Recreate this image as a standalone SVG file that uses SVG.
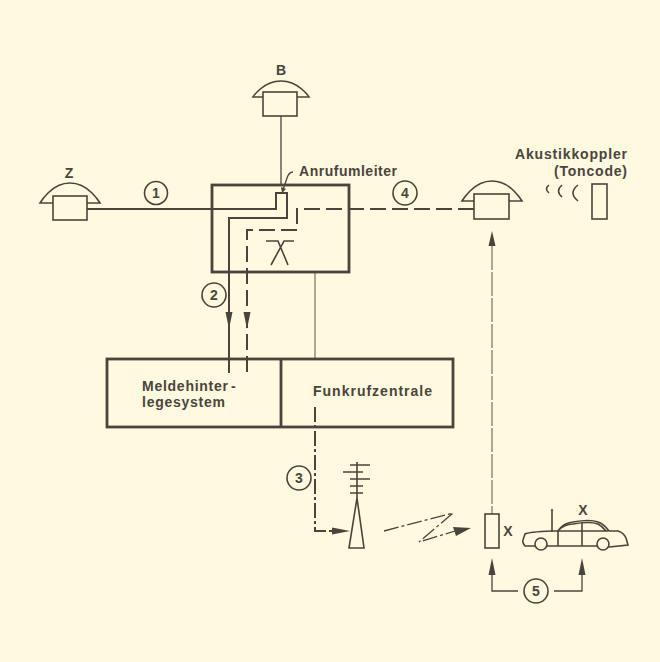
<svg xmlns="http://www.w3.org/2000/svg" width="660" height="662" viewBox="0 0 660 662">
<style>
.l{fill:none;stroke:#4a453c;stroke-linejoin:miter}
.b{fill:#fef9df;stroke:#4a453c;stroke-width:1.6}
.box{fill:none;stroke:#4a453c;stroke-width:2.8}
.c{fill:none;stroke:#4a453c;stroke-width:1.6}
.w{stroke-width:2}
.t{stroke-width:1.3}
.f{stroke-width:1;stroke:#5c574c}
.dash{stroke-dasharray:16 6}
.dd{stroke-dasharray:15 3 3 3}
text{font-family:"Liberation Sans",Arial,sans-serif;font-weight:bold;fill:#4a453c;font-size:14px}
.n{text-anchor:middle;font-size:14px}
.h{fill:#4a453c}
</style>
<defs>
<path id="ph" d="M-30 10Q-27 5 -22 0C-16 -6 -8 -10 0 -10C8 -10 16 -6 22 0Q27 5 30 10Z"/>
</defs>
<rect width="660" height="662" fill="#fef9df"/>
<g id="connectors">
<path class="l w" d="M87 209H276V193H287V218H229V373"/>
<path class="l w dash" d="M474 209H297V230H247V373"/>
<path class="l t" d="M281 116V185"/>
<path class="l f" d="M315 272V359"/>
<path class="l w dd" d="M315 407V531H334"/>
<path class="l f" style="stroke-dasharray:24 2" d="M492 246V514"/>
<path class="l t" d="M293 172Q289 172 287 178L283 190"/>
<path class="h" d="M282 193L281 187L286 189Z"/>
<path class="l t dd" d="M384 531L453 513L419 542L455 531"/>
<path class="l t" d="M492 575V591H518M554 591H582V575"/>
<path class="h" d="M225.500 312L229 329L232.500 312Z"/>
<path class="h" d="M243.500 312L247 329L250.500 312Z"/>
<path class="h" d="M332 527.500L350 531L332 534.500Z"/>
<path class="h" d="M453 527L471 528L456 536Z"/>
<path class="h" d="M488.500 246L492 231L495.500 246Z"/>
<path class="h" d="M488.500 575L492 558L495.500 575Z"/>
<path class="h" d="M578.500 575L582 558L585.500 575Z"/>
</g>
<g id="exchange">
<rect class="box" x="212" y="185" width="137" height="87"/>
<path class="c" d="M266 241H278L288 265M294 241H284L271 265"/>
</g>
<g id="node-z">
<use href="#ph" transform="translate(70 193)" class="c"/>
<rect class="b" x="53" y="196" width="34" height="24"/>
<text class="n" x="69" y="178">Z</text>
</g>
<g id="node-b">
<use href="#ph" transform="translate(281 89) scale(.94 .8)" class="c"/>
<rect class="b" x="263" y="92" width="34" height="24"/>
<text class="n" x="281" y="75">B</text>
</g>
<g id="node-x-phone">
<use href="#ph" transform="translate(492 191)" class="c"/>
<rect class="b" x="474" y="194" width="35" height="25"/>
</g>
<g id="node-coupler">
<rect class="c" x="592" y="184" width="15" height="35"/>
<path class="c" d="M549 185Q544 189 549 193M562 185Q555 191 562 197M578 185Q568 193 578 201"/>
<text x="627" y="159" text-anchor="end" textLength="112">Akustikkoppler</text>
<text x="627" y="176" text-anchor="end" textLength="73">(Toncode)</text>
</g>
<g id="label-anruf"><text x="299" y="176" textLength="98">Anrufumleiter</text></g>
<g id="node-zentrale">
<rect class="box" x="107" y="359" width="346" height="68"/>
<path class="box" d="M281 359V427"/>
<text x="142" y="391" textLength="86">Meldehinter</text><text x="231" y="391">-</text>
<text x="142" y="407" textLength="83">legesystem</text>
<text x="313" y="396" textLength="119">Funkrufzentrale</text>
</g>
<g id="node-antenna">
<path class="c" d="M357 462V498M350 465H370M343 472H363M350 479H370M350 486H363M350 493H363M357 498L349 548H364Z"/>
</g>
<g id="node-receiver">
<rect class="c" x="485" y="514" width="14" height="34"/>
<text class="n" x="508" y="536">X</text>
</g>
<g id="node-car">
<path class="c" d="M552 510V532"/>
<path class="c" d="M535 546H525Q522 542 523 540L525 534Q528 532 552 531H558Q563 523 573 522Q590 519 598 522Q604 524 609 531H618Q624 533 626 538L628 545L609 547M597 546H547"/>
<path class="c" d="M558 531Q564 524 573 524Q590 521 598 524Q602 526 606 531M558 531H608M582 522V546M558 531V546"/>
<circle class="b" cx="541" cy="544" r="6"/><circle class="b" cx="603" cy="544" r="6"/>
<path class="h" d="M552 508.500l1.500 2h-3z"/>
<text class="n" x="583" y="515">X</text>
</g>
<g id="badges">
<circle class="c" cx="156" cy="193" r="11.500"/><text class="n" x="156" y="198">1</text>
<circle class="c" cx="214" cy="295" r="12"/><text class="n" x="214" y="300">2</text>
<circle class="c" cx="299" cy="478" r="12"/><text class="n" x="299" y="483">3</text>
<circle class="c" cx="405" cy="193" r="12"/><text class="n" x="405" y="198">4</text>
<circle class="c" cx="536" cy="591" r="12"/><text class="n" x="536" y="596">5</text>
</g>
</svg>
